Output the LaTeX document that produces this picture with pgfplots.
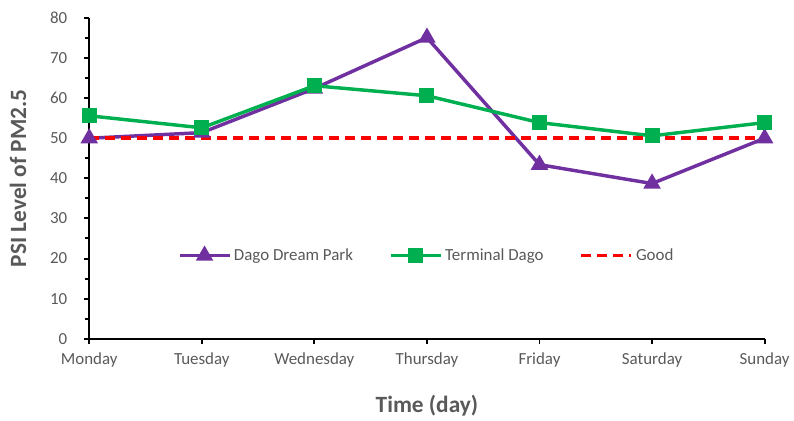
\documentclass[border=0pt]{standalone}
\usepackage{pgfplots}
\pgfplotsset{compat=1.18}
\usepackage{fontspec}
\setmainfont{Carlito}
\definecolor{dpurple}{HTML}{7030A0}
\definecolor{tgreen}{HTML}{00B050}
\definecolor{txtgray}{HTML}{595959}
\begin{document}
\begin{tikzpicture}
\begin{axis}[
scale only axis,
width=507pt, height=240.75pt,
xmin=0, xmax=6, ymin=0, ymax=80,
xtick={0,...,6},
xticklabels={Monday,Tuesday,Wednesday,Thursday,Friday,Saturday,Sunday},
ytick={0,10,...,80},
minor y tick num=1,
axis x line*=bottom, axis y line*=left,
axis line style={black, line width=1.5pt, -},
tick style={black, line width=1.5pt},
major tick length=4pt, minor tick length=3.5pt,
tick align=outside,
ticklabel style={font=\fontsize{12.7}{14}\selectfont, text=txtgray},
yticklabel style={xshift=-9pt},
xticklabel style={yshift=-3pt},
/pgf/number format/assume math mode=true,
xlabel={\textbf{Time (day)}},
ylabel={\textbf{PSI Level of PM2.5}},
label style={font=\fontsize{17.5}{20}\selectfont, text=txtgray},
xlabel style={yshift=-14pt},
ylabel style={yshift=11pt},
clip=false,
legend columns=3,
legend style={draw=none, fill=none, at={(0.5,0.259)}, anchor=center,
  font=\fontsize{12.7}{14}\selectfont, text=txtgray,
  /tikz/every even column/.append style={column sep=25pt}},
legend image code/.code={%
  \draw[mark repeat=2,mark phase=2] plot coordinates {(0cm,0cm) (0.66cm,0cm) (1.32cm,0cm)};},
after end axis/.code={\path (rel axis cs:0,1) ++(0,13.5pt); \path (rel axis cs:0,0) ++(-67pt,0);},
]
\addplot[dpurple, line width=2.6pt, mark=triangle*, mark size=5pt, mark options={solid}]
coordinates{ (0,50) (1,51.4) (2,62.4) (3,75.1) (4,43.4) (5,38.7) (6,50) };
\addlegendentry{Dago Dream Park}
\addplot[tgreen, line width=2.6pt, mark=square*, mark size=4.3pt, mark options={solid}]
coordinates{ (0,55.6) (1,52.6) (2,63.1) (3,60.6) (4,53.9) (5,50.6) (6,53.9) };
\addlegendentry{Terminal Dago}
\addplot[red, line width=2.8pt, dash pattern=on 7.5pt off 4.5pt]
coordinates{ (0,50) (1,50) (2,50) (3,50) (4,50) (5,50) (6,50) };
\addlegendentry{Good}
\end{axis}
\end{tikzpicture}
\end{document}
